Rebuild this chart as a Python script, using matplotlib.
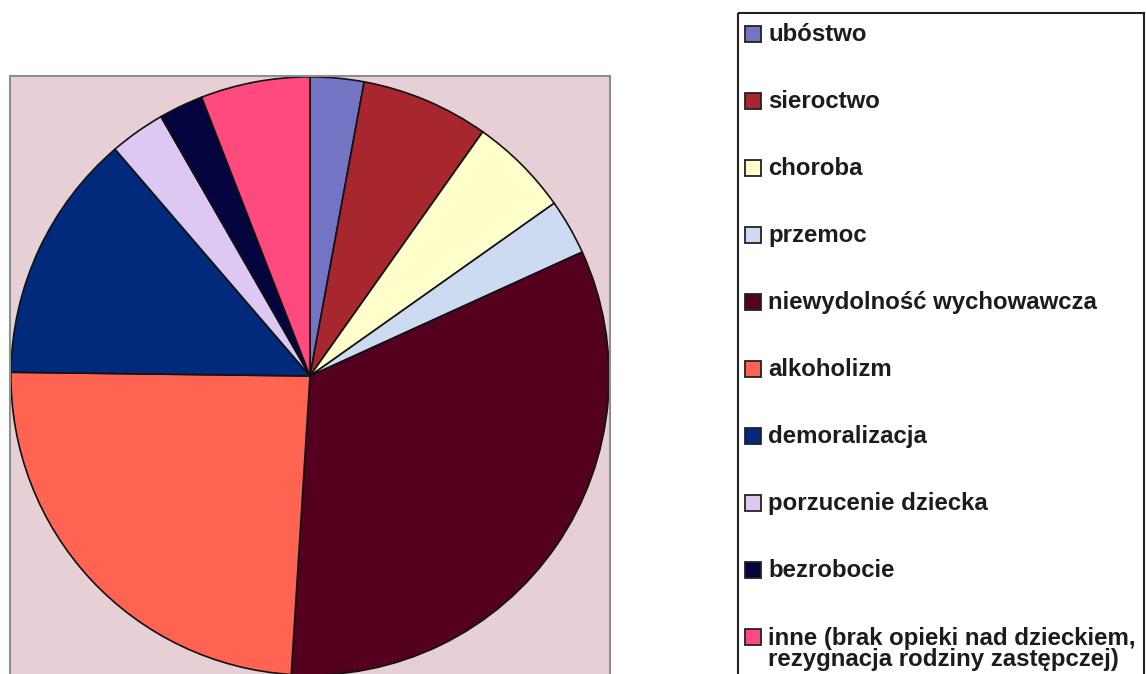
import matplotlib.pyplot as plt
from matplotlib.patches import Rectangle

plt.rcParams['font.family'] = ['Liberation Sans', 'DejaVu Sans']

# categories (clockwise from 12 o'clock) and their shares in %
labels = ['ubóstwo', 'sieroctwo', 'choroba', 'przemoc',
          'niewydolność wychowawcza', 'alkoholizm', 'demoralizacja',
          'porzucenie dziecka', 'bezrobocie',
          'inne (brak opieki nad dzieckiem,\nrezygnacja rodziny zastępczej)']
shares = [2.9, 6.9, 5.4, 3.0, 32.8, 24.2, 13.5, 3.0, 2.4, 5.9]
colors = ['#7474C4', '#A8262E', '#FFFFCC', '#CCDAF2', '#560020',
          '#FF6452', '#022A7C', '#DCC8F2', '#04053E', '#FF4A7E']

W, H = 1146, 674
fig = plt.figure(figsize=(W / 100, H / 100), dpi=100)

# pie inside the pinkish square plot area
ax = fig.add_axes([10 / W, -2 / H, 600 / W, 600 / H])
ax.pie(shares, colors=colors, startangle=90, counterclock=False,
       radius=1.0, wedgeprops=dict(edgecolor='#111111', linewidth=1.2))
ax.set_xlim(-1.003, 1.003)
ax.set_ylim(-1.003, 1.003)
ax.set_frame_on(True)
ax.set_facecolor('#E6D0D6')
for s in ax.spines.values():
    s.set_color('#8E8E8E')
    s.set_linewidth(1.5)

# legend drawn in pixel coordinates
lg = fig.add_axes([0, 0, 1, 1])
lg.set_xlim(0, W)
lg.set_ylim(H, 0)
lg.axis('off')
lg.add_patch(Rectangle((738, 13), 406, 700, fill=False,
                       edgecolor='#222222', linewidth=1.5))
y0, dy, line_gap = 33.5, 67.0, 22
for i, (lab, col) in enumerate(zip(labels, colors)):
    y = y0 + i * dy
    lg.add_patch(Rectangle((745, y - 8), 16, 16, facecolor=col,
                           edgecolor='#222222', linewidth=1.3))
    # va=baseline anchors the last line, push it down so line 1 sits by the marker
    extra = lab.count('\n') * line_gap
    lg.text(768, y + 7.5 + extra, lab, fontsize=17.3, fontweight='bold',
            color='#1C1C1C', va='baseline', ha='left', linespacing=0.88)

fig.savefig('out.png', dpi=100)
